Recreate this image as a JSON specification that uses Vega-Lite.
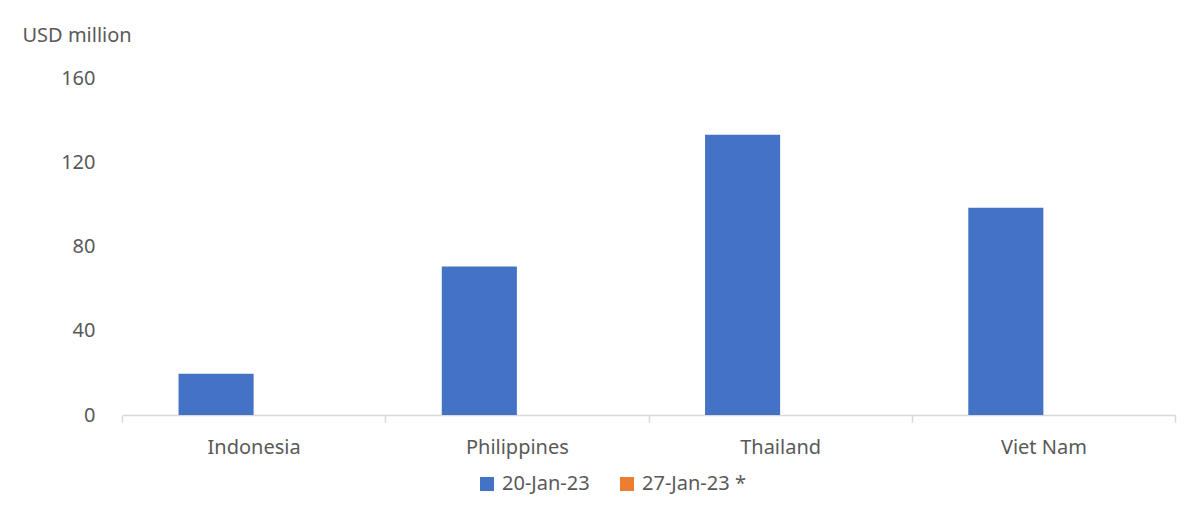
{
  "$schema": "https://vega.github.io/schema/vega-lite/v6.json",
  "width": 1053,
  "height": 337,
  "autosize": {"type": "none"},
  "padding": {"left": 122, "top": 78, "right": 21, "bottom": 105},
  "background": "white",
  "config": {"view": {"stroke": null}, "font": "Noto Sans"},
  "data": {
    "values": [
      {"country": "Indonesia", "date": "20-Jan-23", "value": 19.6},
      {"country": "Philippines", "date": "20-Jan-23", "value": 70.5},
      {"country": "Thailand", "date": "20-Jan-23", "value": 133.1},
      {"country": "Viet Nam", "date": "20-Jan-23", "value": 98.4},
      {"country": "Indonesia", "date": "27-Jan-23 *", "value": null},
      {"country": "Philippines", "date": "27-Jan-23 *", "value": null},
      {"country": "Thailand", "date": "27-Jan-23 *", "value": null},
      {"country": "Viet Nam", "date": "27-Jan-23 *", "value": null}
    ]
  },
  "mark": {"type": "bar"},
  "encoding": {
    "x": {
      "field": "country",
      "type": "nominal",
      "sort": null,
      "scale": {"paddingInner": 0, "paddingOuter": 0},
      "axis": {
        "title": null,
        "labelAngle": 0,
        "tickBand": "extent",
        "ticks": true,
        "tickSize": 7,
        "tickColor": "#D9D9D9",
        "tickWidth": 1.5,
        "domainColor": "#D9D9D9",
        "domainWidth": 1.5,
        "labelFontSize": 20,
        "labelColor": "#595959",
        "labelPadding": 15,
        "grid": false
      }
    },
    "xOffset": {
      "field": "date",
      "type": "nominal",
      "scale": {"domain": ["20-Jan-23", "27-Jan-23 *"], "paddingInner": 0, "paddingOuter": 0.753}
    },
    "y": {
      "field": "value",
      "type": "quantitative",
      "scale": {"domain": [0, 160], "nice": false, "zero": true},
      "axis": {
        "title": "USD million",
        "titleAngle": 0,
        "titleAlign": "left",
        "titleBaseline": "middle",
        "titleX": -100,
        "titleY": -43,
        "titleFontSize": 20,
        "titleFontWeight": "normal",
        "titleColor": "#595959",
        "values": [0, 40, 80, 120, 160],
        "domain": false,
        "ticks": false,
        "grid": false,
        "labelFontSize": 20,
        "labelColor": "#595959",
        "labelPadding": 27
      }
    },
    "color": {
      "field": "date",
      "type": "nominal",
      "scale": {"domain": ["20-Jan-23", "27-Jan-23 *"], "range": ["#4472C4", "#ED7D31"]},
      "legend": {
        "orient": "none",
        "legendX": 355,
        "legendY": 396,
        "direction": "horizontal",
        "title": null,
        "symbolType": "square",
        "symbolSize": 196,
        "symbolStrokeWidth": 0,
        "symbolOpacity": 1,
        "labelFontSize": 20,
        "labelColor": "#595959",
        "labelOffset": 5,
        "columnPadding": 27
      }
    }
  }
}
